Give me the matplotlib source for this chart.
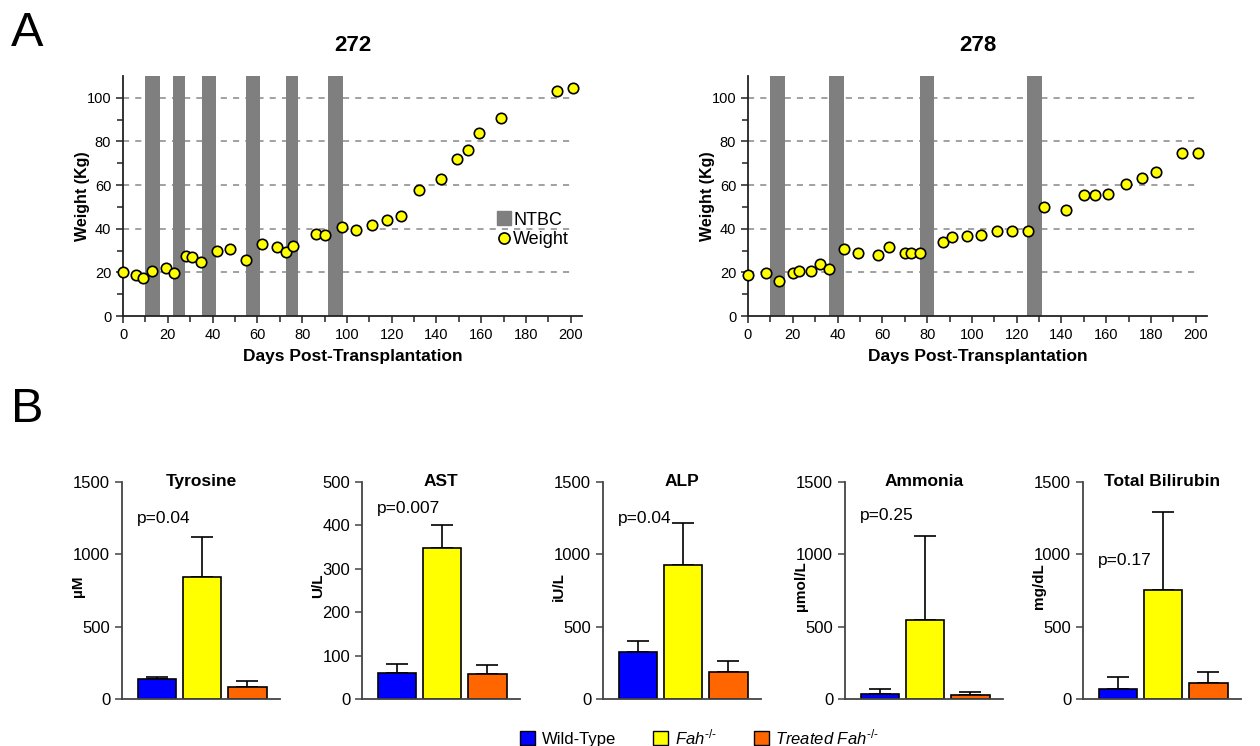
import numpy as np
import matplotlib
matplotlib.use("Agg")
import matplotlib.pyplot as plt
from matplotlib.patches import Patch
from matplotlib.lines import Line2D

plt.rcParams['font.family'] = ['Liberation Sans', 'DejaVu Sans']
plt.rcParams['mathtext.fontset'] = 'custom'
plt.rcParams['mathtext.rm'] = 'Liberation Sans'
plt.rcParams['mathtext.it'] = 'Liberation Sans:italic'

# ---- panel A data ----
days_272 = [0, 6, 9, 13, 19, 23, 28, 31, 35, 42, 48, 55, 62, 69, 73, 76, 86, 90,
            98, 104, 111, 118, 124, 132, 142, 149, 154, 159, 169, 194, 201]
weight_272 = [20, 18.7, 17.5, 20.7, 22, 19.7, 27.6, 27.2, 24.7, 29.6, 30.7, 25.8,
              32.8, 31.8, 29.5, 32, 37.6, 36.9, 40.7, 39.6, 41.9, 44.1, 45.8, 57.6,
              63, 71.9, 76, 84, 90.9, 102.9, 104.4]
ntbc_272 = [(9.7, 16.4), (22.4, 27.6), (35.2, 41.7), (54.8, 61.4), (73, 78.2), (91.5, 98.3)]

days_278 = [0, 8, 14, 20, 23, 28, 32, 36, 43, 49, 58, 63, 70, 73, 77, 87, 91, 98,
            104, 111, 118, 125, 132, 142, 150, 155, 161, 169, 176, 182, 194, 201]
weight_278 = [18.9, 19.5, 16.1, 19.5, 20.7, 20.7, 23.7, 21.5, 30.7, 28.9, 28, 31.8,
              28.7, 28.7, 28.7, 33.8, 36.1, 36.7, 37, 39, 39, 39, 49.9, 48.8, 55.3,
              55.3, 56.1, 60.5, 63.4, 66.2, 74.5, 74.5]
ntbc_278 = [(10, 16.4), (36.2, 42.7), (76.7, 83.2), (124.8, 131.3)]

# ---- panel B data ----
groups = ['Wild-Type', '$\\mathit{Fah}^{\u2010/\u2010}$', '$\\mathit{Treated\\ Fah}^{\u2010/\u2010}$']
group_colors = ['#0000FF', '#FFFF00', '#FF6600']
analytes = ['Tyrosine', 'AST', 'ALP', 'Ammonia', 'Total Bilirubin']
units = ['µM', 'U/L', 'iU/L', 'µmol/L', 'mg/dL']
means = [[138, 842, 85], [59, 348, 57], [328, 923, 187], [32, 547, 25], [72, 755, 108]]
errs = [[12, 277, 40], [21, 52, 21], [74, 293, 76], [35, 577, 26], [78, 535, 81]]
ymax = [1500, 500, 1500, 1500, 1500]
pvals = ['p=0.04', 'p=0.007', 'p=0.04', 'p=0.25', 'p=0.17']
p_y = [1250, 440, 1250, 1270, 960]

fig = plt.figure(figsize=(12.6, 7.46), dpi=100)
W, H = 1260, 746

def weight_panel(left, days, weight, ntbc, title):
    ax = fig.add_axes([left / W, 1 - 316 / H, 459 / W, 240 / H])
    for a, b in ntbc:
        ax.axvspan(a, b, color='#7f7f7f', lw=0, zorder=1)
    ax.hlines([20, 40, 60, 80, 100], 0, 200, colors='#888888', linestyles=(0, (4, 4)),
              lw=1.1, zorder=0)
    ax.plot(days, weight, 'o', ms=7.5, mfc='#FFFF00', mec='black', mew=1.2, zorder=3,
            clip_on=False)
    ax.set_xlim(0, 205)
    ax.set_ylim(0, 110)
    ax.set_xticks(np.arange(0, 201, 20))
    ax.set_xticks(np.arange(0, 201, 10), minor=True)
    ax.set_yticks(np.arange(0, 101, 20))
    ax.set_yticks(np.arange(0, 101, 10), minor=True)
    for s in ['top', 'right']:
        ax.spines[s].set_visible(False)
    for s in ['left', 'bottom']:
        ax.spines[s].set_linewidth(1.3)
        ax.spines[s].set_color('#222222')
    ax.tick_params(which='both', direction='out', width=1.1, color='#222222', labelsize=10.5)
    ax.tick_params(which='major', length=5)
    ax.tick_params(which='minor', length=4)
    ax.set_xlabel('Days Post-Transplantation', fontweight='bold', fontsize=12.5, labelpad=5)
    ax.set_ylabel('Weight (Kg)', fontweight='bold', fontsize=11.5)
    ax.yaxis.set_label_coords(-0.072, 0.5)
    ax.set_title(title, fontweight='bold', fontsize=16, pad=18)
    return ax

ax1 = weight_panel(123, days_272, weight_272, ntbc_272, '272')
weight_panel(748, days_278, weight_278, ntbc_278, '278')

handles = [Line2D([], [], ls='none', marker='s', ms=10, mfc='#7f7f7f', mec='#7f7f7f'),
           Line2D([], [], ls='none', marker='o', ms=8, mfc='#FFFF00', mec='black', mew=1.2)]
ax1.legend(handles, ['NTBC', 'Weight'], loc='upper left', bbox_to_anchor=(0.795, 0.465),
           frameon=False, fontsize=13, handletextpad=0.0, borderaxespad=0,
           labelspacing=0.15, handlelength=1.0)

lefts = [122, 362, 603, 845, 1083]
x = np.arange(3)
for i in range(5):
    ax = fig.add_axes([lefts[i] / W, 1 - 699 / H, 158 / W, 217 / H])
    ax.bar(x, means[i], width=0.85, color=group_colors, edgecolor='black', lw=1.2, zorder=2)
    ax.errorbar(x, means[i], yerr=[[0, 0, 0], errs[i]], fmt='none', ecolor='black',
                elinewidth=1.2, capsize=8, capthick=1.2, zorder=1)
    ax.set_xlim(-0.77, 2.72)
    ax.set_ylim(0, ymax[i])
    ax.set_yticks(np.linspace(0, ymax[i], 4 if ymax[i] == 1500 else 6))
    ax.set_xticks([])
    for s in ['top', 'right']:
        ax.spines[s].set_visible(False)
    for s in ['left', 'bottom']:
        ax.spines[s].set_linewidth(1.3)
        ax.spines[s].set_color('#444444')
    ax.tick_params(axis='y', direction='out', length=5, width=1.1, color='#444444',
                   labelsize=12)
    ax.set_ylabel(units[i], fontweight='bold', fontsize=11)
    ax.yaxis.set_label_coords(-0.235, 0.52)
    ax.text(0.5, 1.0, analytes[i], transform=ax.transAxes, ha='center', va='center',
            fontweight='bold', fontsize=12.5)
    ax.text(-0.45, p_y[i], pvals[i], ha='left', va='center', fontsize=12.5)

leg_handles = [Patch(facecolor=c, edgecolor='black', lw=1) for c in group_colors]
fig.legend(leg_handles, groups, loc='center', bbox_to_anchor=(700 / W, 1 - 737 / H),
           ncol=3, frameon=False, fontsize=12, handlelength=0.9, handleheight=0.9,
           handletextpad=0.4, columnspacing=2.2)

fig.text(11 / W, 1 - 33 / H, 'A', fontsize=35, va='center', ha='left')
fig.text(11 / W, 1 - 410 / H, 'B', fontsize=35, va='center', ha='left')

fig.savefig('out.png', dpi=100)
